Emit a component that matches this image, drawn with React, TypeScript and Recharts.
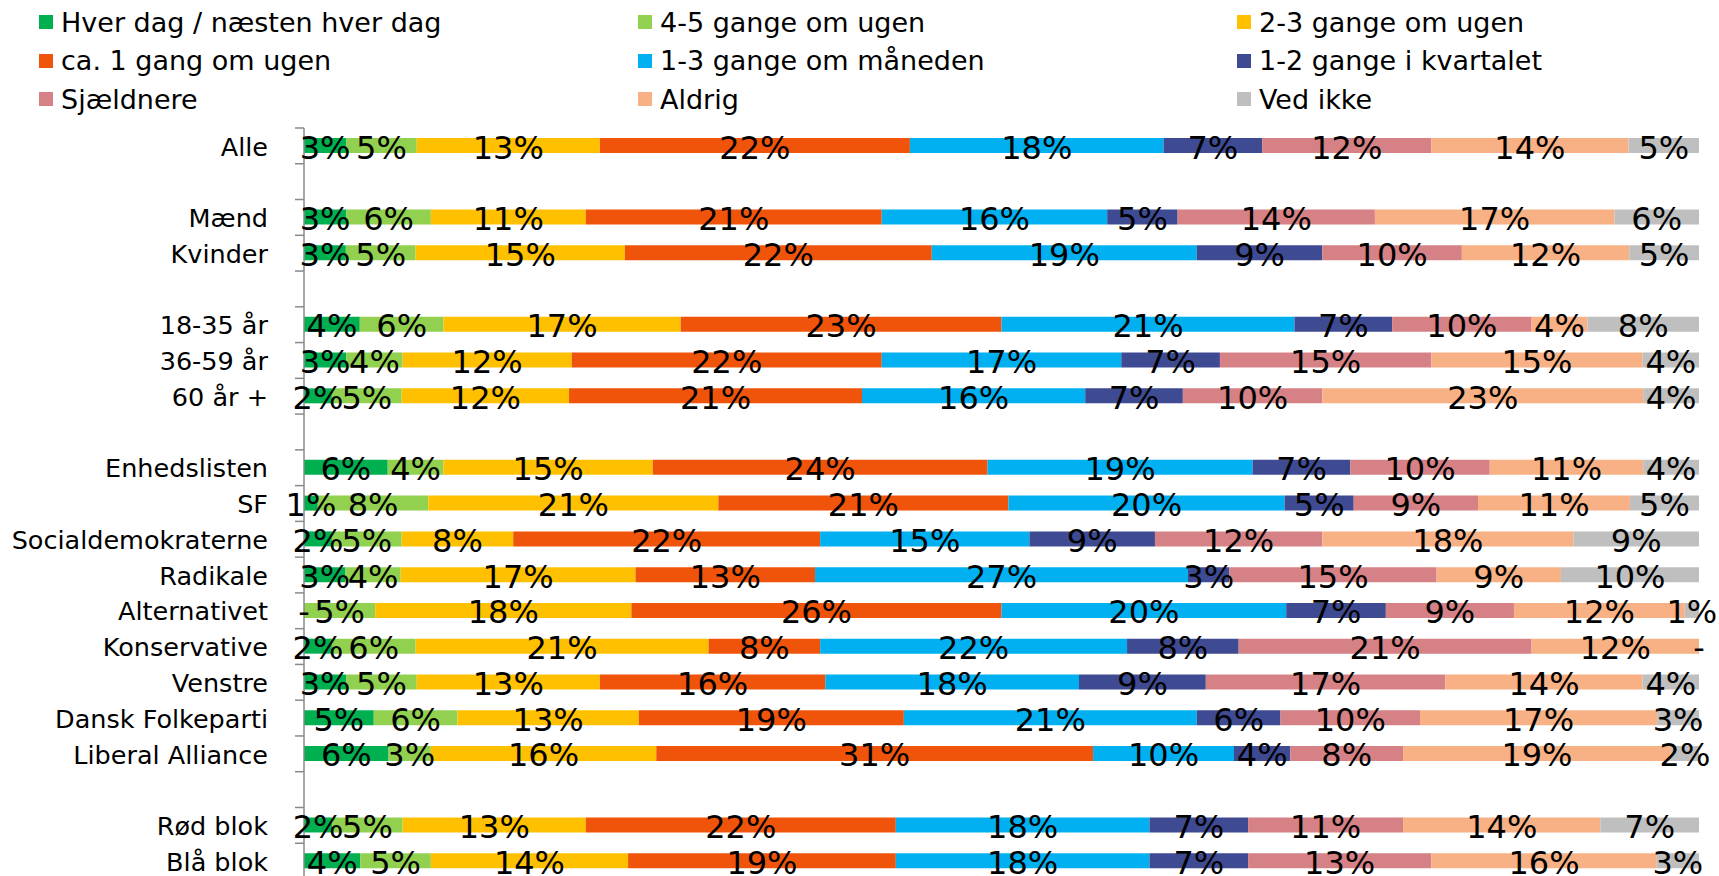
import { BarChart, Bar, XAxis, YAxis, LabelList } from "recharts"

// rækker (tomme strenge = mellemrum mellem grupperne)
const categories = [
  "Alle",
  "",
  "Mænd",
  "Kvinder",
  "",
  "18-35 år",
  "36-59 år",
  "60 år +",
  "",
  "Enhedslisten",
  "SF",
  "Socialdemokraterne",
  "Radikale",
  "Alternativet",
  "Konservative",
  "Venstre",
  "Dansk Folkeparti",
  "Liberal Alliance",
  "",
  "Rød blok",
  "Blå blok",
]

const seriesNames = [
  "Hver dag / næsten hver dag",
  "4-5 gange om ugen",
  "2-3 gange om ugen",
  "ca. 1 gang om ugen",
  "1-3 gange om måneden",
  "1-2 gange i kvartalet",
  "Sjældnere",
  "Aldrig",
  "Ved ikke",
]

const seriesColors = [
  "#00B050",
  "#92D050",
  "#FFC000",
  "#F0540A",
  "#00B0F0",
  "#3E4A92",
  "#D58185",
  "#F8B085",
  "#BFBFBF",
]

const hverDag = [3, null, 3, 3, null, 4, 3, 2, null, 6, 1, 2, 3, 0, 2, 3, 5, 6, null, 2, 4]
const fireFem = [5, null, 6, 5, null, 6, 4, 5, null, 4, 8, 5, 4, 5, 6, 5, 6, 3, null, 5, 5]
const toTre = [13, null, 11, 15, null, 17, 12, 12, null, 15, 21, 8, 17, 18, 21, 13, 13, 16, null, 13, 14]
const caEn = [22, null, 21, 22, null, 23, 22, 21, null, 24, 21, 22, 13, 26, 8, 16, 19, 31, null, 22, 19]
const maaned = [18, null, 16, 19, null, 21, 17, 16, null, 19, 20, 15, 27, 20, 22, 18, 21, 10, null, 18, 18]
const kvartal = [7, null, 5, 9, null, 7, 7, 7, null, 7, 5, 9, 3, 7, 8, 9, 6, 4, null, 7, 7]
const sjaeldnere = [12, null, 14, 10, null, 10, 15, 10, null, 10, 9, 12, 15, 9, 21, 17, 10, 8, null, 11, 13]
const aldrig = [14, null, 17, 12, null, 4, 15, 23, null, 11, 11, 18, 9, 12, 12, 14, 17, 19, null, 14, 16]
const vedIkke = [5, null, 6, 5, null, 8, 4, 4, null, 4, 5, 9, 10, 1, 0, 4, 3, 2, null, 7, 3]

const seriesValues = [hverDag, fireFem, toTre, caEn, maaned, kvartal, sjaeldnere, aldrig, vedIkke]

const rows = categories.map((name, i) => {
  const row: Record<string, any> = { idx: i, name }
  seriesValues.forEach((vals, s) => {
    row[`s${s}`] = vals[i]
  })
  return row
})

const CHART_W = 1719
const CHART_H = 880
const MARGIN = { top: 128, right: 20, bottom: 1, left: 0 }
const PLOT_H = CHART_H - MARGIN.top - MARGIN.bottom
const BAND = PLOT_H / categories.length
const AXIS_COLOR = "#8a8a8a"
const FONT = "'DejaVu Sans', Verdana, sans-serif"
const LABEL_SIZE = 32
const LABEL_DY = 13

const legendCols = [39, 638, 1237]

function CategoryTick(props: any) {
  const { x, y, payload } = props
  const axisX = x + 36
  const i = payload.value
  return (
    <g>
      <line x1={axisX - 9} x2={axisX} y1={y - BAND / 2} y2={y - BAND / 2} stroke={AXIS_COLOR} strokeWidth={1.5} />
      {i === categories.length - 1 && (
        <line x1={axisX - 9} x2={axisX} y1={y + BAND / 2} y2={y + BAND / 2} stroke={AXIS_COLOR} strokeWidth={1.5} />
      )}
      <text x={x} y={y} dy="0.38em" textAnchor="end" fontSize={25.5} fill="#000">
        {categories[i]}
      </text>
    </g>
  )
}

const fmt = (v: number) => (v === 0 ? "-" : `${v}%`)

// zero-width segments get no label from recharts, so the neighbour draws the "-"
const makeLabel = (s: number) => (props: any) => {
  const vb = props.viewBox ?? props
  const x = Number(props.x ?? vb.x)
  const y = Number(props.y ?? vb.y)
  const w = Number(props.width ?? vb.width)
  const h = Number(props.height ?? vb.height)
  const value = props.value
  if (value === null || value === undefined) return null
  const cy = y + h / 2
  // which row this label sits in (label index skips the empty rows)
  const row = props.payload?.idx ?? Math.floor((cy - MARGIN.top) / BAND)
  const prevZero = s > 0 && seriesValues[s - 1][row] === 0
  const nextZero = s < seriesValues.length - 1 && seriesValues[s + 1][row] === 0
  return (
    <g>
      {prevZero && (
        <text x={x} y={cy} dy={LABEL_DY} textAnchor="middle" fontSize={LABEL_SIZE} fill="#000">
          {fmt(0)}
        </text>
      )}
      <text x={x + w / 2} y={cy} dy={LABEL_DY} textAnchor="middle" fontSize={LABEL_SIZE} fill="#000">
        {fmt(value)}
      </text>
      {nextZero && (
        <text x={x + w} y={cy} dy={LABEL_DY} textAnchor="middle" fontSize={LABEL_SIZE} fill="#000">
          {fmt(0)}
        </text>
      )}
    </g>
  )
}

function Legend() {
  return (
    <>
      {seriesNames.map((name, i) => {
        const col = i % 3
        const row = Math.floor(i / 3)
        return (
          <div
            key={name}
            style={{
              position: "absolute",
              left: legendCols[col],
              top: 22 + row * 38.5 - 19,
              height: 38,
              display: "flex",
              alignItems: "center",
              fontSize: 27,
              whiteSpace: "nowrap",
              color: "#000",
            }}
          >
            <span style={{ width: 14, height: 14, background: seriesColors[i], marginRight: 8, display: "inline-block" }} />
            {name}
          </div>
        )
      })}
    </>
  )
}

export default function App() {
  return (
    <div style={{ position: "relative", width: CHART_W, height: 876, overflow: "hidden", fontFamily: FONT, background: "#fff" }}>
      <style>{"html,body{margin:0;padding:0;overflow:hidden;background:#fff}"}</style>
      <Legend />
      <div style={{ position: "absolute", left: 0, top: 0 }}>
        <BarChart
          layout="vertical"
          width={CHART_W}
          height={CHART_H}
          data={rows}
          margin={MARGIN}
          stackOffset="expand"
          barSize={15}
        >
          <XAxis type="number" hide domain={[0, 1]} />
          <YAxis
            type="category"
            dataKey="idx"
            width={304}
            axisLine={{ stroke: AXIS_COLOR, strokeWidth: 1.5 }}
            tickLine={false}
            tickSize={9}
            tickMargin={27}
            interval={0}
            tick={<CategoryTick />}
          />
          {seriesNames.map((name, s) => (
            <Bar
              key={name}
              dataKey={`s${s}`}
              name={name}
              stackId="a"
              fill={seriesColors[s]}
              isAnimationActive={false}
            >
              <LabelList dataKey={`s${s}`} content={makeLabel(s)} />
            </Bar>
          ))}
        </BarChart>
      </div>
    </div>
  )
}
